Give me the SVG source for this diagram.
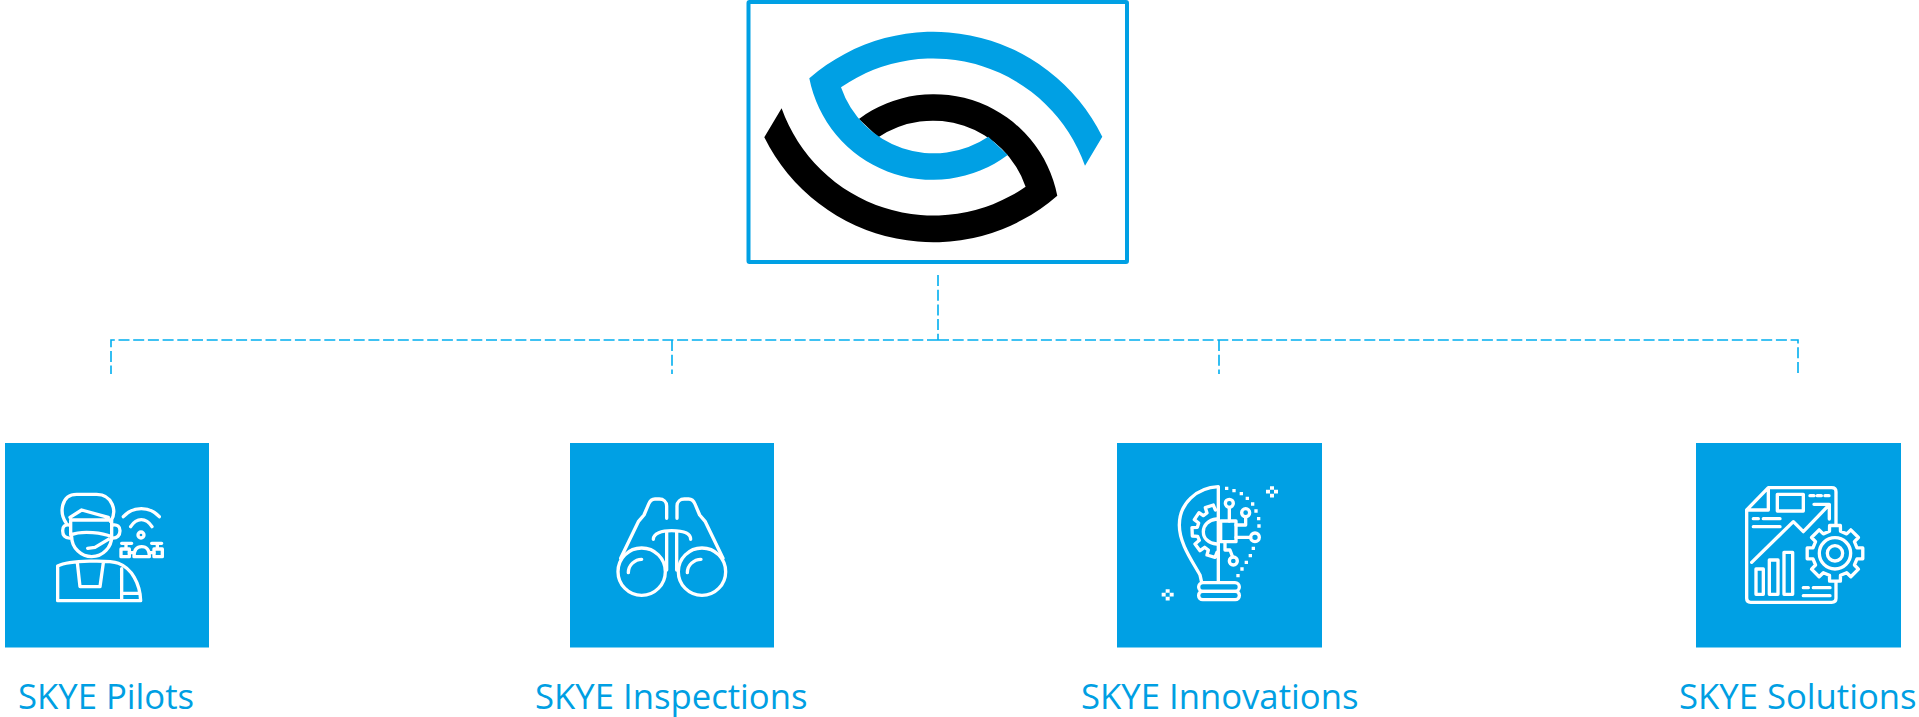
<svg xmlns="http://www.w3.org/2000/svg" width="1919" height="717" viewBox="0 0 1919 717">
<style>
.sq{fill:#00a0e4}
.lbl{font-family:"Open Sans","Noto Sans","Liberation Sans",sans-serif;font-size:34.7px;fill:#009fe3}
.ic{fill:none;stroke:#fff;stroke-width:10;stroke-linecap:round;stroke-linejoin:round}
.dash{fill:none;stroke:#00aeef;stroke-width:1.6;stroke-dasharray:11 3.7}
</style>
<rect width="1919" height="717" fill="#fff"/>
<g id="connectors">
<path class="dash" d="M938 275V340"/>
<path class="dash" d="M938 340H111V374"/>
<path class="dash" d="M938 340H1798V374"/>
<path class="dash" d="M672 340V374"/>
<path class="dash" d="M1219 340V374"/>
</g>
<g id="node-skye">
<rect x="748.5" y="2" width="378.5" height="260" rx="1" fill="#fff" stroke="#00a0e4" stroke-width="4"/>
<path id="logo-black" fill="#000" transform="rotate(180 933.3 137)" d="M809.3 78.3A188.5 188.5 0 0 1 1102.3 136.7L1085 165.7A161.3 161.3 0 0 0 841 87.3A98 98 0 0 0 988.3 136.7L1007.7 155A125.7 125.7 0 0 1 809.3 78.3Z"/>
<path id="logo-blue" fill="#00a0e4" d="M809.3 78.3A188.5 188.5 0 0 1 1102.3 136.7L1085 165.7A161.3 161.3 0 0 0 841 87.3A98 98 0 0 0 988.3 136.7L1007.7 155A125.7 125.7 0 0 1 809.3 78.3Z"/>
</g>
<g id="node-pilots">
<rect class="sq" x="5" y="443" width="204" height="204.5"/>
<g transform="translate(40 480) scale(.3333)"><path class="ic" d="M78 128C58 100 62 43 110 43H170C218 43 232 95 212 125M90 112L125 90L205 112M92 120H215V170C190 160 130 150 92 165ZM88 135C74 133 68 140 68 152C68 165 74 176 92 174M219 135C232 133 240 140 240 152C240 165 232 176 215 174M95 170C95 205 125 230 155 230C190 230 215 200 215 170M143 205L165 202L205 178M53 258C90 240 210 240 235 250C275 265 300 310 302 362H53ZM112 248L120 320H180L190 248M245 266V362M245 340H300M250 110C280 78 328 78 358 110M272 140C290 112 318 112 336 140M282 230C282 205 295 200 305 200C318 200 328 205 328 230ZM245 190H275M258 190V205M268 218H282M335 190H365M352 190V205M328 218H342"/><circle class="ic" cx="303" cy="165" r="9"/><rect class="ic" x="243" y="207" width="25" height="23"/><rect class="ic" x="342" y="207" width="25" height="23"/></g>
<text class="lbl" x="18" y="709">SKYE Pilots</text>
</g>
<g id="node-inspections">
<rect class="sq" x="570" y="443" width="204" height="204.5"/>
<g transform="translate(600 480) scale(.3333)"><path class="ic" d="M200 115V78C200 65 190 57 178 57H165C155 57 150 62 146 72L132 105L115 125L62 235M231 115V78C231 65 241 57 253 57H266C276 57 281 62 285 72L299 105L316 125L369 235M160 178C160 160 185 152 215 152C247 152 272 160 272 178M200 155V270M230 155V270M85 278C85 255 105 238 125 238M262 278C262 255 282 238 303 238"/><circle class="ic" cx="125" cy="275" r="71"/><circle class="ic" cx="306" cy="275" r="71"/></g>
<text class="lbl" x="535" y="709">SKYE Inspections</text>
</g>
<g id="node-innovations">
<rect class="sq" x="1117" y="443" width="205" height="204.5"/>
<g transform="translate(1150 475) scale(.3333)"><path class="ic" d="M205 35V320M205 35C140 38 88 85 88 150C88 205 125 255 150 300L155 322M200 132C175 135 160 150 160 170C160 190 175 205 200 207M196 105L190 90L166 98L171 114L160 122L147 113L133 134L146 144L142 157L126 158L127 183L143 184L148 196L135 207L150 227L164 217L175 225L171 240L195 247L201 232M238 97V138M287 125V150H258M258 187H302M225 200V225H240L248 246"/><rect class="ic" x="212" y="138" width="46" height="62"/><circle class="ic" cx="238" cy="85" r="12"/><circle class="ic" cx="287" cy="113" r="12"/><circle class="ic" cx="315" cy="187" r="13"/><circle class="ic" cx="250" cy="258" r="12"/><rect class="ic" x="146" y="323" width="122" height="26" rx="13"/><rect class="ic" x="146" y="349" width="122" height="25" rx="12"/>
<path fill="none" stroke="#fff" stroke-width="10" d="M225 40h10M247 47h10M269 56h10M287 70h10M303 87h10M313 108h10M321 131h10M322 153h10M305 220h10M296 242h10M284 262h10M271 282h10M259 302h10"/>
<path fill="none" stroke="#fff" stroke-width="11" d="M360 39h12M348 50h12M372 50h12M360 62h12M47 348h12M35 359h12M59 359h12M47 371h12"/></g>
<text class="lbl" x="1081" y="709">SKYE Innovations</text>
</g>
<g id="node-solutions">
<rect class="sq" x="1696" y="443" width="205" height="204.5"/>
<g transform="translate(1730 475) scale(.3333)"><path class="ic" d="M318 150V50Q318 38 305 38H115L50 105V370Q50 382 62 382H305Q318 382 318 370V322M115 38V105H50M65 262L190 140L220 170L295 92M252 88H298V132M70 131H85M100 131H150M70 155H150M220 338H235M250 338H300M220 362H300M240 62H252M262 62H274M285 62H297"/><rect class="ic" x="142" y="58" width="78" height="50"/><rect class="ic" x="78" y="282" width="22" height="76"/><rect class="ic" x="118" y="255" width="26" height="103"/><rect class="ic" x="162" y="232" width="26" height="126"/>
<g transform="translate(315 235)"><path class="ic" d="M-16.5 -66L-16.2 -83.4H16.2L16.5 -66L35 -58.3L47.5 -70.4L70.4 -47.5L58.3 -35L66 -16.5L83.4 -16.2V16.2L66 16.5L58.3 35L70.4 47.5L47.5 70.4L35 58.3L16.5 66L16.2 83.4H-16.2L-16.5 66L-35 58.3L-47.5 70.4L-70.4 47.5L-58.3 35L-66 16.5L-83.4 16.2V-16.2L-66 -16.5L-58.3 -35L-70.4 -47.5L-47.5 -70.4L-35 -58.3Z"/><circle class="ic" r="47"/><circle class="ic" r="23"/></g></g>
<text class="lbl" x="1679" y="709">SKYE Solutions</text>
</g>
</svg>
